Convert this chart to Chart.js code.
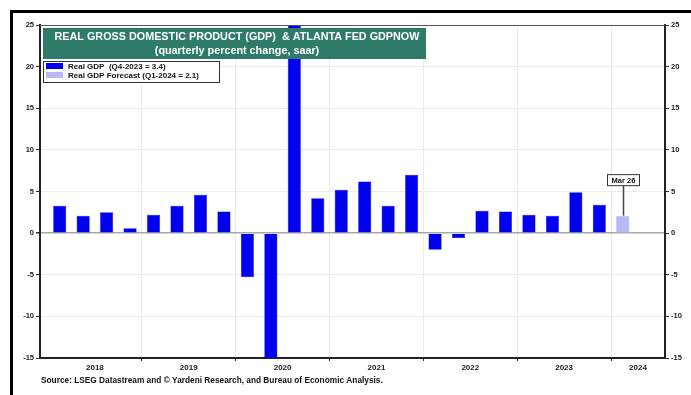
<!DOCTYPE html>
<html>
<head>
<meta charset="utf-8">
<script src="https://cdn.jsdelivr.net/npm/chart.js@4.4.1/dist/chart.umd.min.js"></script>
<style>
  html, body { margin: 0; padding: 0; background: #fff; overflow: hidden; }
  canvas { display: block; }
</style>
</head>
<body>
<canvas id="gdpChart" width="691" height="395"></canvas>
<script>
// quarters 2018Q1 .. 2024Q1
var quarters = ['2018Q1','2018Q2','2018Q3','2018Q4','2019Q1','2019Q2','2019Q3','2019Q4',
                '2020Q1','2020Q2','2020Q3','2020Q4','2021Q1','2021Q2','2021Q3','2021Q4',
                '2022Q1','2022Q2','2022Q3','2022Q4','2023Q1','2023Q2','2023Q3','2023Q4','2024Q1'];
var realGdp = [3.3, 2.1, 2.5, 0.6, 2.2, 3.3, 4.6, 2.6,
               -5.3, -28.0, 34.8, 4.2, 5.2, 6.2, 3.3, 7.0,
               -2.0, -0.6, 2.7, 2.6, 2.2, 2.1, 4.9, 3.4, null];
var gdpForecast = [null, null, null, null, null, null, null, null,
                   null, null, null, null, null, null, null, null,
                   null, null, null, null, null, null, null, null, 2.1];
var yearLabels = ['2018', '2019', '2020', '2021', '2022', '2023', '2024'];
var yTicks = [-15, -10, -5, 0, 5, 10, 15, 20, 25];
var titleLines = ['REAL GROSS DOMESTIC PRODUCT (GDP)  & ATLANTA FED GDPNOW', '(quarterly percent change, saar)'];
var legendLabels = ['Real GDP  (Q4-2023 = 3.4)', 'Real GDP Forecast (Q1-2024 = 2.1)'];
var forecastNote = 'Mar 26';
var sourceText = 'Source: LSEG Datastream and \u00A9 Yardeni Research, and Bureau of Economic Analysis.';

var FONT = '"Liberation Sans", Arial, sans-serif';

function toPoints(arr) {
    return arr.map(function (v, i) { return { x: i, y: v }; });
}

// year boundaries fall between Q4 and Q1; labels centred on the visible part of each year
var yearBounds = [3.5, 7.5, 11.5, 15.5, 19.5, 23.5];
var xMin = -0.84, xMax = 25.8;
var yearCenters = yearLabels.map(function (y, i) {
    var lo = Math.max(i * 4 - 0.5, xMin), hi = Math.min(i * 4 + 3.5, xMax);
    return (lo + hi) / 2;
});

var framePlugin = {
    id: 'frame',
    beforeDraw: function (chart) {
        var c = chart.ctx;
        c.save();
        c.fillStyle = '#fff';
        c.fillRect(0, 0, chart.width, chart.height);
        c.strokeStyle = '#000';
        c.lineWidth = 3;
        c.strokeRect(11.5, 11.5, chart.width + 20, chart.height + 20);
        c.restore();
    },
    afterDraw: function (chart) {
        var c = chart.ctx, a = chart.chartArea;
        c.save();
        // top edge of plot box
        c.strokeStyle = '#555';
        c.lineWidth = 1;
        c.beginPath();
        c.moveTo(a.left, a.top + 0.5);
        c.lineTo(a.right, a.top + 0.5);
        c.stroke();
        // source line
        c.fillStyle = '#111';
        c.font = 'bold 8.3px ' + FONT;
        c.textBaseline = 'middle';
        c.fillText(sourceText, 41, 381);
        c.restore();
    }
};

var overlayPlugin = {
    id: 'overlay',
    afterDatasetsDraw: function (chart) {
        var c = chart.ctx;
        c.save();
        // title box
        c.fillStyle = '#2d7b68';
        c.fillRect(43, 28, 383, 31);
        c.fillStyle = '#fff';
        c.textAlign = 'center';
        c.textBaseline = 'middle';
        c.font = 'bold 10.8px ' + FONT;
        c.fillText(titleLines[0], 237, 37.5);
        c.fillText(titleLines[1], 237, 51);

        // legend box
        c.fillStyle = '#fff';
        c.fillRect(43, 61, 177, 22);
        c.strokeStyle = '#333';
        c.lineWidth = 1;
        c.strokeRect(43.5, 61.5, 176, 21);
        c.textAlign = 'left';
        c.font = 'bold 8px ' + FONT;
        chart.data.datasets.forEach(function (ds, i) {
            var y = 63 + i * 9;
            c.fillStyle = ds.backgroundColor;
            c.fillRect(46, y, 17, 6);
            c.fillStyle = '#111';
            c.fillText(legendLabels[i], 68, y + 3.5);
        });

        // forecast date callout
        var xs = chart.scales.x, ys = chart.scales.y;
        var idx = gdpForecast.findIndex(function (v) { return v !== null; });
        var px = Math.round(xs.getPixelForValue(idx)) + 0.5;
        var top = ys.getPixelForValue(gdpForecast[idx]);
        var boxBottom = top - 30;
        c.strokeStyle = '#444';
        c.lineWidth = 1.5;
        c.beginPath();
        c.moveTo(px, boxBottom);
        c.lineTo(px, top);
        c.stroke();
        c.fillStyle = '#fff';
        c.fillRect(px - 16, boxBottom - 11, 32, 11);
        c.strokeStyle = '#333';
        c.lineWidth = 1;
        c.strokeRect(px - 16, boxBottom - 11, 32, 11);
        c.fillStyle = '#111';
        c.textAlign = 'center';
        c.font = 'bold 7.5px ' + FONT;
        c.fillText(forecastNote, px, boxBottom - 5);
        c.restore();
    }
};

var tickFont = { family: FONT, size: 7.5, weight: 'bold' };

var ctx = document.getElementById('gdpChart').getContext('2d');
var gdpChart = new Chart(ctx, {
    type: 'bar',
    data: {
        datasets: [{
            label: legendLabels[0],
            data: toPoints(realGdp),
            backgroundColor: '#0000f0',
            borderColor: '#0000c8',
            borderWidth: 0.5
        }, {
            label: legendLabels[1],
            data: toPoints(gdpForecast),
            backgroundColor: '#b8b8f4',
            borderColor: '#9c9ce6',
            borderWidth: 0.5
        }]
    },
    options: {
        responsive: false,
        animation: false,
        maintainAspectRatio: false,
        devicePixelRatio: 1,
        layout: { padding: { top: 25, left: 0, right: 0, bottom: 0 } },
        datasets: { bar: { grouped: false, barPercentage: 0.56, categoryPercentage: 1 } },
        plugins: {
            legend: { display: false },
            tooltip: { enabled: false }
        },
        scales: {
            x: {
                type: 'linear',
                offset: false,
                min: xMin,
                max: xMax,
                afterBuildTicks: function (scale) {
                    scale.ticks = yearBounds.concat(yearCenters).map(function (v) { return { value: v }; });
                },
                afterFit: function (scale) { scale.height = 37; },
                ticks: {
                    autoSkip: false,
                    maxRotation: 0,
                    padding: 2,
                    color: '#222',
                    font: { family: FONT, size: 8, weight: 'bold' },
                    callback: function (v) {
                        var i = yearCenters.indexOf(v);
                        return i >= 0 ? yearLabels[i] : '';
                    }
                },
                grid: {
                    offset: false,
                    color: function (c) {
                        return c.tick && yearBounds.indexOf(c.tick.value) >= 0 ? '#ececec' : 'rgba(0,0,0,0)';
                    },
                    tickColor: function (c) {
                        return c.tick && yearBounds.indexOf(c.tick.value) >= 0 ? '#333' : 'rgba(0,0,0,0)';
                    },
                    tickLength: 3
                },
                border: { color: '#222', width: 2 }
            },
            y: {
                position: 'left',
                min: -15,
                max: 25,
                afterBuildTicks: function (scale) {
                    scale.ticks = yTicks.map(function (v) { return { value: v }; });
                },
                afterFit: function (scale) { scale.width = 40; },
                ticks: { color: '#222', font: tickFont, padding: 2 },
                grid: {
                    color: function (c) { return c.tick && c.tick.value === 0 ? '#a8a8a8' : '#ececec'; },
                    lineWidth: function (c) { return c.tick && c.tick.value === 0 ? 1.5 : 1; },
                    tickColor: '#333',
                    tickLength: 4
                },
                border: { color: '#222', width: 2 }
            },
            y2: {
                position: 'right',
                min: -15,
                max: 25,
                afterBuildTicks: function (scale) {
                    scale.ticks = yTicks.map(function (v) { return { value: v }; });
                },
                afterFit: function (scale) { scale.width = 26; },
                ticks: { color: '#222', font: tickFont, padding: 2 },
                grid: { drawOnChartArea: false, tickColor: '#333', tickLength: 4 },
                border: { color: '#222', width: 2 }
            }
        }
    },
    plugins: [framePlugin, overlayPlugin]
});
</script>
</body>
</html>
